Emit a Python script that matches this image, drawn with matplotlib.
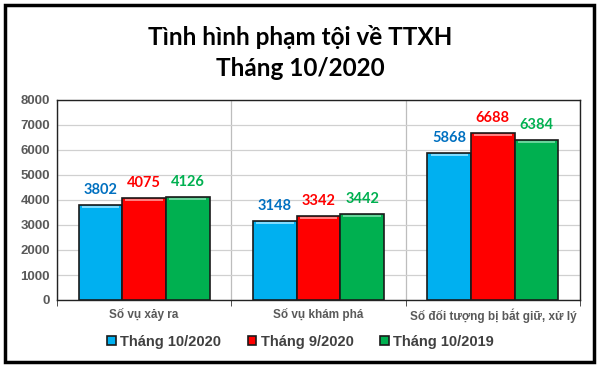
import numpy as np
import matplotlib.pyplot as plt
from matplotlib.patches import Rectangle

categories = ['Số vụ xảy ra', 'Số vụ khám phá', 'Số đối tượng bị bắt giữ, xử lý']
series_names = ['Tháng 10/2020', 'Tháng 9/2020', 'Tháng 10/2019']
thang_10_2020 = [3802, 3148, 5868]
thang_9_2020 = [4075, 3342, 6688]
thang_10_2019 = [4126, 3442, 6384]
y_ticks = [0, 1000, 2000, 3000, 4000, 5000, 6000, 7000, 8000]

bar_colors = ['#00B0F0', '#FF0000', '#00B050']
top_colors = ['#7fdcff', '#ff8080', '#66d49a']
label_colors = ['#0070C0', '#FF0000', '#00B050']
gray = '#595959'

fig = plt.figure(figsize=(6.01, 3.67), dpi=100)
ax = fig.add_axes([57/601, 1-300/367, (580-57)/601, 200/367])

x = np.arange(len(categories))
width = 0.25
all_series = [thang_10_2020, thang_9_2020, thang_10_2019]
for i, vals in enumerate(all_series):
    pos = x + (i - 1) * width
    ax.bar(pos, vals, width, color=bar_colors[i], edgecolor='#1a1a1a',
           linewidth=1.2, label=series_names[i], zorder=3)
    # light bevel strip along the top of each bar
    ax.bar(pos, [70] * len(vals), width * 0.86, bottom=[v - 110 for v in vals],
           color=top_colors[i], linewidth=0, zorder=3.5)
    for p, v in zip(pos, vals):
        ax.text(p, v + 330, str(v), ha='center', va='bottom', fontsize=10.5,
                fontweight='bold', color=label_colors[i], family='Lato', zorder=4)

ax.set_xlim(-0.5, 2.5)
ax.set_ylim(0, 8000)
ax.set_yticks(y_ticks)
ax.set_yticklabels([str(t) for t in y_ticks], fontsize=9.5, fontweight='bold',
                   color=gray, family='Liberation Sans')
ax.set_xticks(x)
ax.set_xticklabels(categories, fontsize=8.5, fontweight='bold', color=gray,
                   family='Liberation Sans')
ax.set_xticks([-0.5, 0.5, 1.5, 2.5], minor=True)
ax.tick_params(axis='x', which='major', length=0, pad=6)
ax.tick_params(axis='x', which='minor', length=4, direction='out', color='#333333')
ax.tick_params(axis='y', length=0, pad=5)
ax.grid(axis='y', color='#d0d0d0', linewidth=0.9, zorder=0)
ax.grid(axis='x', which='minor', color='#bdbdbd', linewidth=0.9, zorder=0)
for s in ax.spines.values():
    s.set_color('#222222')
    s.set_linewidth(1.0)

fig.text(0.5, 1-37/367, 'Tình hình phạm tội về TTXH', ha='center', va='center',
         fontsize=17.5, fontweight='bold', family='Lato')
fig.text(0.5, 1-69/367, 'Tháng 10/2020', ha='center', va='center',
         fontsize=17.5, fontweight='bold', family='Lato')

handles, labels = ax.get_legend_handles_labels()
leg = fig.legend(handles, labels, loc='center', bbox_to_anchor=(0.5, 1-342/367),
                 ncol=3, frameon=False, handlelength=0.6, handleheight=0.6,
                 columnspacing=1.8, handletextpad=0.3,
                 prop={'family': 'Liberation Sans', 'weight': 'bold', 'size': 10.5})
for t in leg.get_texts():
    t.set_color('#404040')

fig.patches.append(Rectangle((5/601, 5/367), 589/601, 357/367, transform=fig.transFigure,
                             fill=False, edgecolor='black', linewidth=2.5))

fig.savefig('out.png', dpi=100)
